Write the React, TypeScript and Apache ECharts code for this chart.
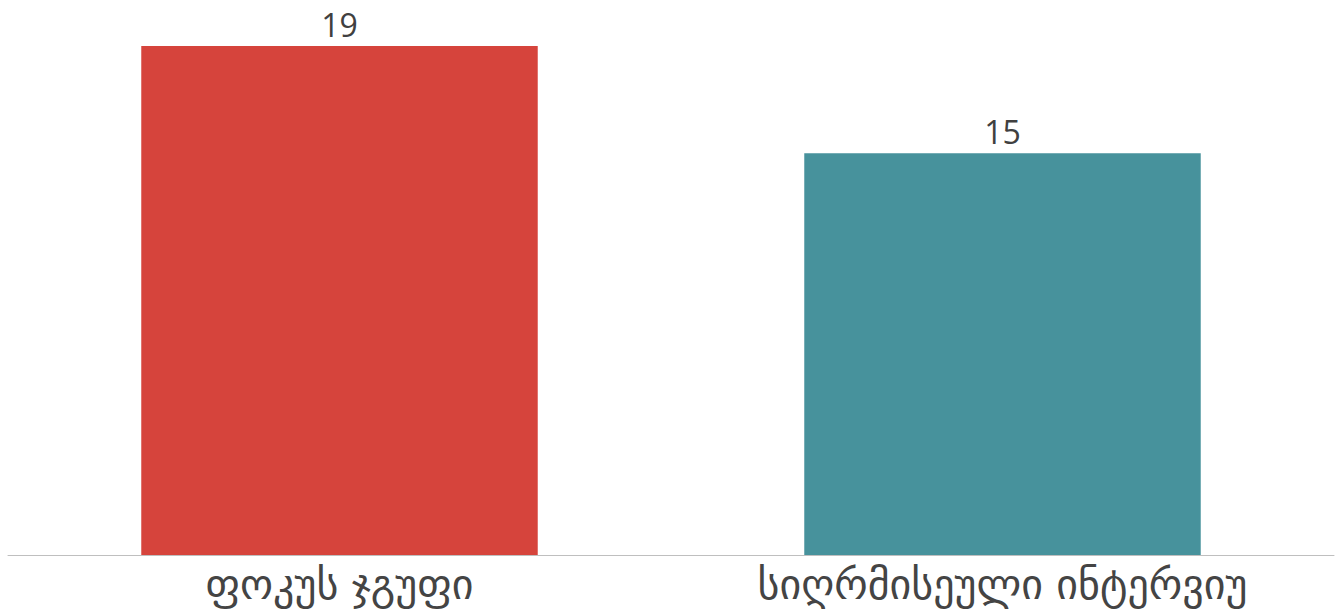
import React, { useEffect, useRef } from "react";
import * as echarts from "echarts";

const categories = ["ფოკუს ჯგუფი", "სიღრმისეული ინტერვიუ"];
const values = [19, 15];
const colors = ["#D6443C", "#47929C"];

export default function App() {
  const ref = useRef<HTMLDivElement>(null);
  useEffect(() => {
    document.body.style.margin = "0";
    const chart = echarts.init(ref.current!, null, { renderer: "svg" });
    chart.setOption({
      animation: false,
      backgroundColor: "#ffffff",
      grid: { left: 8, right: 8, top: 46, bottom: 59, containLabel: false },
      xAxis: {
        type: "category",
        data: categories,
        axisLine: { show: true, lineStyle: { color: "#BFBFBF", width: 1 } },
        axisTick: { show: false },
        axisLabel: {
          color: "#444444",
          fontSize: 42,
          margin: 8,
          fontFamily: "'DejaVu Sans', 'Noto Sans', sans-serif",
        },
      },
      yAxis: {
        type: "value",
        min: 0,
        max: 19,
        show: false,
        splitLine: { show: false },
      },
      series: [
        {
          type: "bar",
          barWidth: "59.8%",
          data: values.map((v, i) => ({ value: v, itemStyle: { color: colors[i] } })),
          label: {
            show: true,
            position: "top",
            distance: 6,
            color: "#404040",
            fontSize: 32,
            fontFamily: "'Open Sans', 'Noto Sans', sans-serif",
          },
        },
      ],
    });
    return () => chart.dispose();
  }, []);
  return <div ref={ref} style={{ width: 1342, height: 614 }} />;
}
